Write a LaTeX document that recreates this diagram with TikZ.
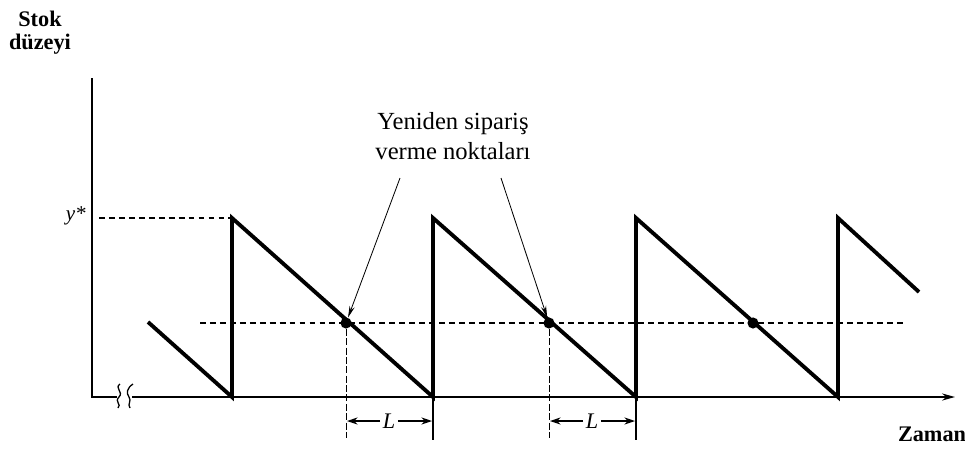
\documentclass[tikz,border=0pt]{standalone}
\usepackage{fontspec}
\setmainfont{Liberation Serif}
\usetikzlibrary{arrows.meta}
\begin{document}
\begin{tikzpicture}[x=0.03cm,y=-0.03cm,
  saw/.style={line width=3.3pt,line join=miter},
  axisline/.style={line width=1.8pt},
  dashln/.style={line width=1.1pt,dash pattern=on 5pt off 3.5pt},
  lbl/.style={font=\fontsize{19}{20}\selectfont\bfseries,inner sep=0pt},
  ann/.style={font=\fontsize{21}{25}\selectfont,inner sep=0pt,align=center},
  dot/.style={circle,fill=black,inner sep=0pt,minimum size=9.5pt},
  pointer/.style={line width=0.7pt,-{Stealth[length=10pt,width=4.5pt]}},
  dim/.style={line width=1pt,-{Stealth[length=9pt,width=6pt]}}]
\useasboundingbox (0,0) rectangle (965,448);
% coordinates
\coordinate (O) at (92,397);
\coordinate (ytop) at (92,78);
\coordinate (xend) at (955,397);
\coordinate (b1) at (117,397);
\coordinate (b2) at (132,397);
% axes
\draw[axisline] (ytop) -- (O) -- (b1);
\draw[axisline,-{Stealth[length=11pt,width=6pt]}] (b2) -- (xend);
\draw[line width=1.1pt] (120,384) .. controls (114,388) and (124,392) .. (119,397) .. controls (114,402) and (122,404) .. (118,408);
\draw[line width=1.1pt] (133,384) .. controls (127,388) and (126,393) .. (129,397) .. controls (132,401) and (127,404) .. (130,408);
% labels
\node[lbl,anchor=base] (stok) at (40,26) {Stok};
\node[lbl,anchor=base] (duz) at (40,49) {düzeyi};
\node[font=\fontsize{18}{20}\selectfont\itshape,anchor=east,inner sep=0pt] (ystar) at (86,216) {y*};
\node[lbl,anchor=base] (zaman) at (932,441) {Zaman};
% sawtooth
\coordinate (s0) at (148,322);
\coordinate (z1) at (232,397); \coordinate (t1) at (232,218);
\coordinate (z2) at (433,397); \coordinate (t2) at (433,218);
\coordinate (z3) at (636,397); \coordinate (t3) at (636,218);
\coordinate (z4) at (838,397); \coordinate (t4) at (838,218);
\coordinate (s5) at (919,292);
\draw[saw] (s0) -- (z1) -- (t1) -- (z2) -- (t2) -- (z3) -- (t3) -- (z4) -- (t4) -- (s5);
\draw[axisline] (173,397) -- (z4);
% dashed lines
\coordinate (ys) at (99,218);
\draw[dashln] (ys) -- (t1);
\coordinate (r0) at (200,323);
\coordinate (r1) at (905,323);
\draw[dashln] (r0) -- (r1);
% reorder points
\node[dot] (p1) at (346,323) {};
\node[dot] (p2) at (549,323) {};
\node[dot] (p3) at (753,323) {};
% verticals for L
\coordinate (v1b) at (346,438);
\coordinate (v2b) at (549,438);
\coordinate (w1b) at (433,440);
\coordinate (w2b) at (636,440);
\draw[line width=0.8pt,dash pattern=on 6pt off 2pt] (p1) -- (v1b);
\draw[line width=0.8pt,dash pattern=on 6pt off 2pt] (p2) -- (v2b);
\draw[line width=0.9pt] (z2) -- (w1b);
\draw[line width=0.9pt] (z3) -- (w2b);
% L dimensions
\node[font=\fontsize{19}{20}\selectfont\itshape,inner sep=2pt] (L1) at (389,421) {L};
\node[font=\fontsize{19}{20}\selectfont\itshape,inner sep=2pt] (L2) at (592,421) {L};
\coordinate (L1a) at (347,421); \coordinate (L1b) at (432,421);
\coordinate (L2a) at (550,421); \coordinate (L2b) at (635,421);
\draw[dim] (L1.west) -- (L1a);
\draw[dim] (L1.east) -- (L1b);
\draw[dim] (L2.west) -- (L2a);
\draw[dim] (L2.east) -- (L2b);
% annotation
\node[ann] (note) at (453,136) {Yeniden sipariş\\verme noktaları};
\coordinate (n1) at (400,178);
\coordinate (n2) at (501,178);
\draw[pointer] (n1) -- (p1);
\draw[pointer] (n2) -- (p2);
\end{tikzpicture}
\end{document}
